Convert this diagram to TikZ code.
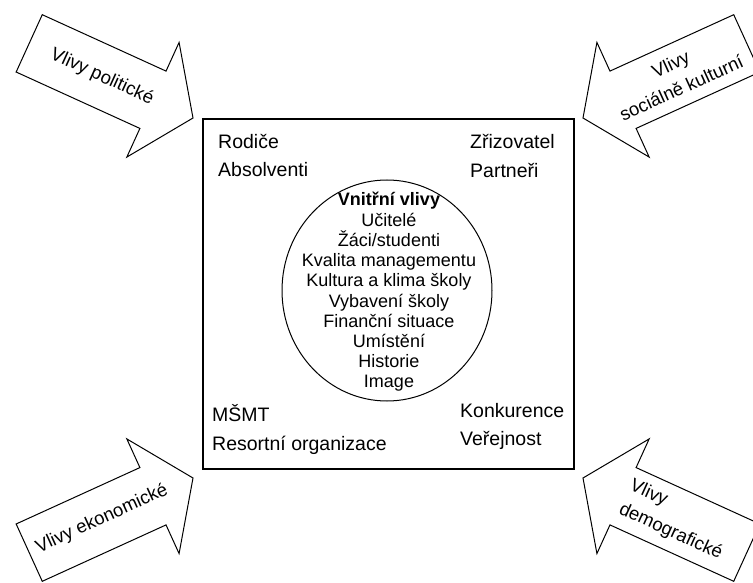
\documentclass[tikz,border=0pt]{standalone}
\usepackage{fontspec}
\setmainfont{Liberation Sans}
\usetikzlibrary{shapes.geometric}
\tikzset{
  blockarrow/.style={draw=black, line width=1pt, fill=white, line join=miter},
  outer/.style={font=\fontsize{19.5}{23}\selectfont, inner sep=0pt, anchor=base west},
  inner/.style={font=\fontsize{18}{20}\selectfont, inner sep=0pt, anchor=base},
  arrowtext/.style={font=\fontsize{18.5}{26}\selectfont, inner sep=0pt, align=center},
}
\newcommand{\blockarrowshape}{(0,0) -- (-44,63) -- (-44,31.5) -- (-180,31.5) -- (-180,-31.5) -- (-44,-31.5) -- (-44,-63) -- cycle}
\begin{document}
\begin{tikzpicture}[x=1pt,y=-1pt]
\clip (0,0) rectangle (753,583);
\fill[white] (0,0) rectangle (753,583);
% block arrows
\begin{scope}[shift={(193,118)}, rotate=-24.5]
  \draw[blockarrow] \blockarrowshape;
\end{scope}
\begin{scope}[shift={(583,118)}, rotate=204.5]
  \draw[blockarrow] \blockarrowshape;
\end{scope}
\begin{scope}[shift={(193,478)}, rotate=24.5]
  \draw[blockarrow] \blockarrowshape;
\end{scope}
\begin{scope}[shift={(583,478)}, rotate=155.5]
  \draw[blockarrow] \blockarrowshape;
\end{scope}
\node[arrowtext, rotate=-24.5] (pol) at (102,77) {Vlivy politické};
\node[arrowtext, rotate=24.5] (soc) at (676,76) {Vlivy\\sociálně kulturní};
\node[arrowtext, rotate=24.5] (eko) at (102,519) {Vlivy ekonomické};
\node[arrowtext, rotate=-24.5, align=left] (dem) at (676,520) {Vlivy\\demografické};
% main box
\draw[line width=1.2pt] (203,119) rectangle (574,469);
\node[outer] (rod) at (218,148.5) {Rodiče};
\node[outer] (abs) at (218,177) {Absolventi};
\node[outer] (zri) at (470,149) {Zřizovatel};
\node[outer] (par) at (470,178) {Partneři};
\node[outer] (msmt) at (212,421.5) {MŠMT};
\node[outer] (res) at (212,450) {Resortní organizace};
\node[outer] (kon) at (460,417) {Konkurence};
\node[outer] (ver) at (460,445) {Veřejnost};
% inner circle
\node[draw, line width=1pt, ellipse, minimum width=210, minimum height=221, inner sep=0pt] (core) at (387,290.5) {};
\foreach \t [count=\i] in {\textbf{Vnitřní vlivy}, Učitelé, Žáci/studenti, Kvalita managementu, Kultura a klima školy, Vybavení školy, Finanční situace, Umístění, Historie, Image}
  \node[inner] (in\i) at (389,{206+20.2*(\i-1)}) {\t};
\end{tikzpicture}
\end{document}
